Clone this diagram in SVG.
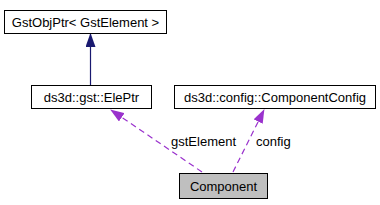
<svg xmlns="http://www.w3.org/2000/svg" width="380" height="205" viewBox="0 0 380 205">
<style>
.n rect{stroke:#000;stroke-width:1}
.n text,.lbl{font-family:"Liberation Sans",Arial,sans-serif;font-size:13px;fill:#000}
.n text{text-anchor:middle}
.inh{stroke:#191970;fill:none;stroke-width:1.2}
.use{stroke:#9a32cd;fill:none;stroke-width:1.2;stroke-dasharray:6,4}
</style>
<defs>
<marker id="aB" markerWidth="14" markerHeight="10" refX="13" refY="5" orient="auto" markerUnits="userSpaceOnUse" viewBox="0 0 14 10"><path d="M0,0 L14,5 L0,10 z" fill="#191970"/></marker>
<marker id="aP" markerWidth="14" markerHeight="10" refX="13" refY="5" orient="auto" markerUnits="userSpaceOnUse" viewBox="0 0 14 10"><path d="M0,0 L14,5 L0,10 z" fill="#9a32cd"/></marker>
</defs>
<rect width="380" height="205" fill="#fff"/>
<g id="edges">
<path class="inh" d="M90.5,85 L90.5,34" marker-end="url(#aB)"/>
<path class="use" d="M202,172 L111,110" marker-end="url(#aP)"/>
<path class="use" d="M233,172 L264,110" marker-end="url(#aP)"/>
<text class="lbl" x="171" y="146">gstElement</text>
<text class="lbl" x="256" y="146">config</text>
</g>
<g id="gstobjptr" class="n"><rect x="4.5" y="10.5" width="162" height="23" fill="#fff"/><text x="85.5" y="26.5">GstObjPtr&lt; GstElement &gt;</text></g>
<g id="eleptr" class="n"><rect x="31.5" y="85.5" width="120" height="23" fill="#fff"/><text x="91.5" y="101.5">ds3d::gst::ElePtr</text></g>
<g id="componentconfig" class="n"><rect x="174.5" y="85.5" width="201" height="23" fill="#fff"/><text x="275" y="101.5">ds3d::config::ComponentConfig</text></g>
<g id="component" class="n"><rect x="179.5" y="173.5" width="88" height="25" fill="#bfbfbf"/><text x="223.5" y="190.5">Component</text></g>
</svg>
